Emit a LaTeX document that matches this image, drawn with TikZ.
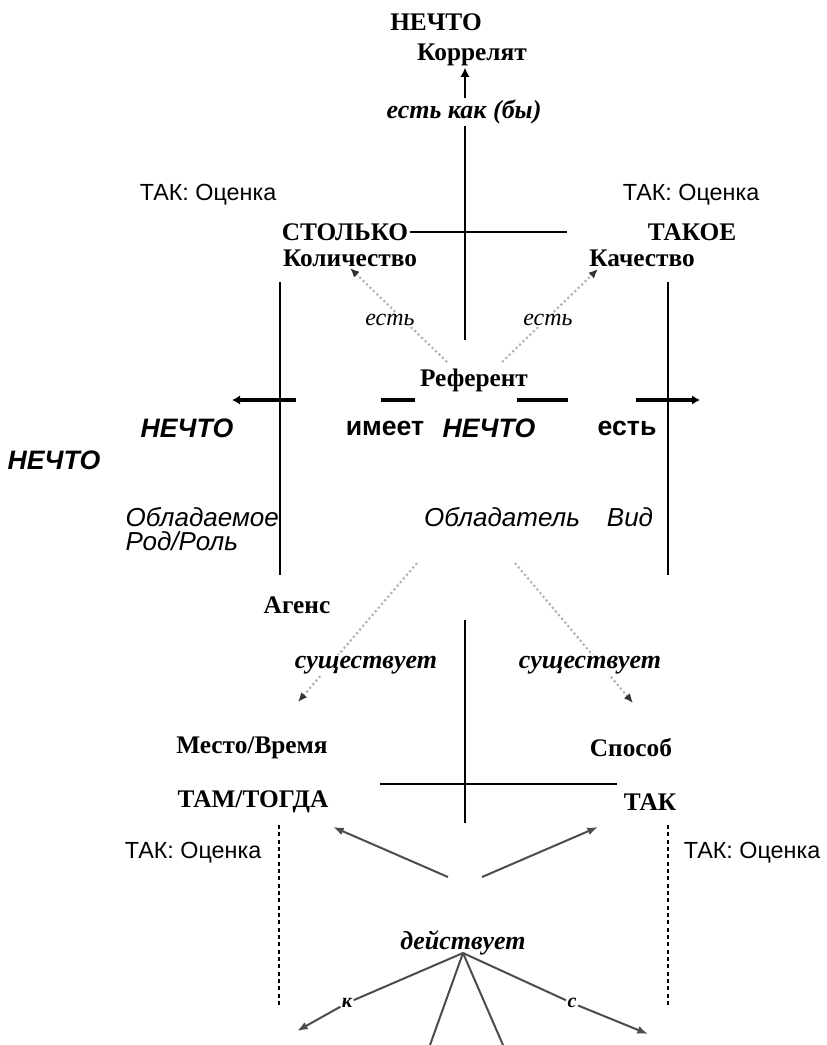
\documentclass[tikz,border=0pt]{standalone}
\usepackage{fontspec}
\setmainfont{Liberation Serif}
\setsansfont{Liberation Sans}
\usetikzlibrary{arrows.meta}

\begin{document}
\begin{tikzpicture}[x=0.75pt,y=-0.75pt,
  lbl/.style={inner sep=1pt},
  hd/.style={lbl,font=\fontsize{19}{21}\selectfont\bfseries},
  rel/.style={lbl,fill=white,font=\fontsize{19.5}{22}\selectfont\bfseries\itshape},
  est/.style={lbl,fill=white,font=\fontsize{18}{20}\selectfont\itshape},
  ocn/.style={lbl,font=\sffamily\fontsize{17.5}{20}\selectfont},
  obj/.style={lbl,font=\sffamily\fontsize{19.5}{22}\selectfont\itshape},
  nch/.style={lbl,font=\sffamily\fontsize{20}{22}\selectfont\bfseries\itshape},
  vrb/.style={lbl,font=\sffamily\fontsize{20}{22}\selectfont\bfseries},
  axis/.style={line width=2.2pt},
  rule/.style={line width=1.2pt},
  bar/.style={line width=2.6pt},
  dots/.style={gray!60,line width=1.6pt,dotted,-{Latex[black!80,length=7pt,width=6pt]}},
  fan/.style={black!70,line width=1.5pt},
  fanarr/.style={fan,-{Latex[length=8pt,width=6pt]}}]
\useasboundingbox (0,0) rectangle (826,1045);

% top: correlate
\node[hd] (top) at (436,22) {НЕЧТО};
\node[hd] (korr) at (472,55) {Коррелят};
\node[rel] (kak) at (464,112) {есть как (бы)};
\coordinate (axtop) at (465,340);
\draw[axis,-{Latex[length=7pt,width=7pt]}] (kak.north -| axtop) -- (korr.south -| axtop);
\draw[axis] (kak.south -| axtop) -- (axtop);

% upper cross
\node[ocn] (ocTL) at (208,195) {ТАК: Оценка};
\node[ocn] (ocTR) at (691,195) {ТАК: Оценка};
\node[hd] (stolko) at (345,232) {СТОЛЬКО};
\node[hd] (takoe) at (692,232) {ТАКОЕ};
\node[hd] (kol) at (350,258) {Количество};
\node[hd] (kach) at (642,258) {Качество};
\coordinate (hr) at (567,232);
\draw[rule] (stolko.east) -- (hr);

\coordinate (lt) at (280,282);
\coordinate (lb) at (280,575);
\coordinate (rt) at (668,282);
\coordinate (rb) at (668,575);
\draw[rule] (lt) -- (lb);
\draw[rule] (rt) -- (rb);

% referent
\node[hd] (ref) at (474,380) {Референт};
\coordinate (rl) at (447,362);
\coordinate (rr) at (502,362);
\coordinate (kt) at (598,269);
\draw[dots] (rl) -- (kol.south);
\draw[dots] (rr) -- (kt);
\node[est] (e1) at (390,320) {есть};
\node[est] (e2) at (548,320) {есть};

% middle row
\coordinate (a1) at (296,400); \coordinate (a2) at (232,400);
\coordinate (s1) at (381,400); \coordinate (s2) at (415,400);
\coordinate (s3) at (517,400); \coordinate (s4) at (568,400);
\coordinate (a3) at (636,400); \coordinate (a4) at (700,400);
\draw[bar,-{Latex[length=6pt,width=7pt]}] (a1) -- (a2);
\draw[bar] (s1) -- (s2);
\draw[bar] (s3) -- (s4);
\draw[bar,-{Latex[length=6pt,width=7pt]}] (a3) -- (a4);

\node[nch] (n1) at (187,428) {НЕЧТО};
\node[vrb] (imeet) at (385,428) {имеет};
\node[nch] (n2) at (489,428) {НЕЧТО};
\node[vrb] (est3) at (627,428) {есть};
\node[nch] (n3) at (54,460) {НЕЧТО};

\node[obj,anchor=west] (obl1) at (124,517) {Обладаемое};
\node[obj,anchor=west] (rod) at (124,541) {Род/Роль};
\node[obj] (obl2) at (502,517) {Обладатель};
\node[obj] (vid) at (630,517) {Вид};

% agent
\node[hd] (agens) at (297,605) {Агенс};
\coordinate (d1) at (417,563);
\coordinate (d2) at (298,702);
\coordinate (d3) at (515,563);
\coordinate (d4) at (633,703);
\draw[dots] (d1) -- (d2);
\draw[dots] (d3) -- (d4);
\node[rel] (su1) at (366,665) {существует};
\node[rel] (su2) at (590,665) {существует};

% lower cross
\coordinate (axlt) at (465,620);
\coordinate (axlb) at (465,823);
\draw[axis] (axlt) -- (axlb);
\coordinate (h1) at (380,784);
\coordinate (h2) at (617,784);
\draw[rule] (h1) -- (h2);

\node[hd] (mesto) at (252,748) {Место/Время};
\node[hd] (sposob) at (631,748) {Способ};
\node[hd] (tam) at (253,802) {ТАМ/ТОГДА};
\node[hd] (tak) at (650,802) {ТАК};
\node[ocn] (ocBL) at (193,853) {ТАК: Оценка};
\node[ocn] (ocBR) at (752,853) {ТАК: Оценка};

\coordinate (vl1) at (279,825); \coordinate (vl2) at (279,1008);
\coordinate (vr1) at (668,825); \coordinate (vr2) at (668,1008);
\draw[line width=1.3pt,dash pattern=on 3pt off 2.5pt] (vl1) -- (vl2);
\draw[line width=1.3pt,dash pattern=on 3pt off 2.5pt] (vr1) -- (vr2);

\coordinate (g1) at (448,877); \coordinate (g2) at (333,827);
\coordinate (g3) at (482,877); \coordinate (g4) at (598,827);
\draw[fanarr] (g1) -- (g2);
\draw[fanarr] (g3) -- (g4);

% acts
\node[rel] (deyst) at (463,943) {действует};
\coordinate (fo) at (463,953);
\node[rel,font=\fontsize{15}{17}\selectfont\bfseries\itshape] (k) at (347,1003) {к};
\node[rel,font=\fontsize{15}{17}\selectfont\bfseries\itshape] (c) at (572,1003) {с};
\coordinate (kend) at (297,1031);
\coordinate (cend) at (648,1034);
\coordinate (b1) at (430,1045);
\coordinate (b2) at (503,1045);
\draw[fan] (fo) -- (k);
\draw[fan] (fo) -- (c);
\draw[fan] (fo) -- (b1);
\draw[fan] (fo) -- (b2);
\draw[fanarr] (k) -- (kend);
\draw[fanarr] (c) -- (cend);
\end{tikzpicture}
\end{document}
